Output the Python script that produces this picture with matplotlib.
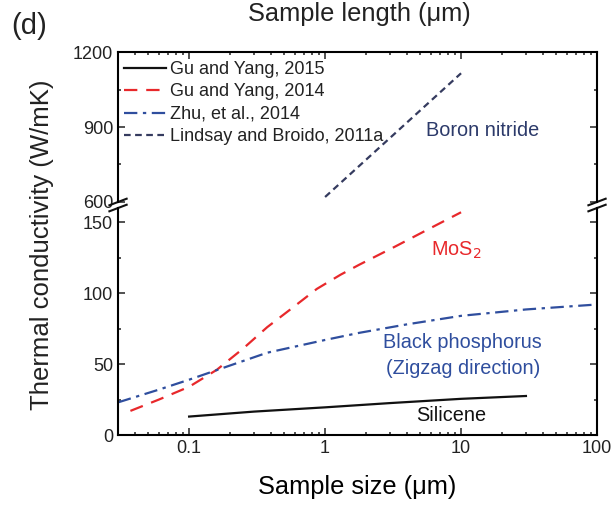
import numpy as np
import matplotlib
matplotlib.use("Agg")
import matplotlib.pyplot as plt
from matplotlib.ticker import MultipleLocator, FixedLocator, NullFormatter

plt.rcParams['font.family'] = ['Liberation Sans', 'DejaVu Sans']
plt.rcParams['text.color'] = '#222222'

# data (sample size in um, conductivity in W/mK)
silicene_x = [0.1, 0.3, 1.0, 3.0, 10.0, 30.0]
silicene_y = [13.0, 16.5, 19.5, 22.5, 25.5, 27.5]

mos2_x = [0.037, 0.06, 0.1, 0.16, 0.25, 0.375, 0.6, 0.87, 1.3, 1.78, 3.3, 6.0, 10.0]
mos2_y = [17.0, 25.0, 34.0, 46.0, 61.0, 76.0, 91.0, 103.0, 113.0, 120.0, 133.0, 146.0, 157.0]

bp_x = [0.03, 0.06, 0.1, 0.2, 0.375, 1.0, 1.78, 4.0, 10.0, 30.0, 100.0]
bp_y = [23.0, 32.0, 39.0, 49.0, 58.0, 67.0, 72.0, 78.0, 84.0, 88.5, 92.0]

bn_x = [1.0, 10.0]
bn_y = [620.0, 1115.0]

legend_labels = ["Gu and Yang, 2015", "Gu and Yang, 2014",
                 "Zhu, et al., 2014", "Lindsay and Broido, 2011a"]

c_black = '#111111'
c_red = '#e8282b'
c_blue = '#2f4e9e'
c_navy = '#353b5f'

fig = plt.figure(figsize=(6.16, 5.07), dpi=100)
ax_top = fig.add_axes([0.1916, 0.6016, 0.7776, 0.2958])
ax_bot = fig.add_axes([0.1916, 0.142, 0.7776, 0.4477])

lw = 1.6
l1, = ax_bot.plot(silicene_x, silicene_y, color=c_black, lw=lw, ls='-')
l2, = ax_bot.plot(mos2_x, mos2_y, color=c_red, lw=lw, ls=(0, (6, 4)))
l3, = ax_bot.plot(bp_x, bp_y, color=c_blue, lw=lw, ls=(0, (6, 2.5, 1.5, 2.5)))
l4, = ax_top.plot(bn_x, bn_y, color=c_navy, lw=lw, ls=(0, (3, 2)))

for ax in (ax_top, ax_bot):
    ax.set_xscale('log')
    ax.set_xlim(0.03, 100)
    for s in ax.spines.values():
        s.set_linewidth(1.5)
    ax.tick_params(which='both', direction='in', width=1.1, labelsize=13,
                   colors='#222222', right=True)
    ax.tick_params(which='major', length=5)
    ax.tick_params(which='minor', length=2.5)

ax_top.set_ylim(600, 1200)
ax_top.yaxis.set_major_locator(FixedLocator([600, 900, 1200]))
ax_top.yaxis.set_minor_locator(FixedLocator([750, 1050]))
ax_top.spines['bottom'].set_visible(False)
ax_top.tick_params(axis='x', which='both', bottom=False, top=True,
                   labelbottom=False)

ax_bot.set_ylim(0, 160)
ax_bot.yaxis.set_major_locator(FixedLocator([0, 50, 100, 150]))
ax_bot.yaxis.set_minor_locator(MultipleLocator(25))
ax_bot.spines['top'].set_visible(False)
ax_bot.tick_params(axis='x', which='both', top=False)
ax_bot.set_xticks([0.1, 1, 10, 100])
ax_bot.set_xticklabels(['0.1', '1', '10', '100'])
ax_bot.xaxis.set_minor_formatter(NullFormatter())
ax_bot.set_xlabel("Sample size (\u03bcm)", fontsize=18.3, labelpad=13)

fig.text(0.068, 0.517, "Thermal conductivity (W/mK)", rotation=90,
         fontsize=18.5, ha='center', va='center')
fig.text(0.583, 0.958, "Sample length (\u03bcm)", fontsize=18.3,
         ha='center', va='baseline')
fig.text(0.018, 0.949, "(d)", fontsize=21, ha='left', va='center')

# axis break marks
for xa in (0.0, 1.0):
    for ax, ya in ((ax_top, 0.0), (ax_bot, 1.0)):
        trans = ax.transAxes
        dx = 0.018
        dy = dx * (0.7776 * 616) / (ax.get_position().height * 507) * 0.38
        ax.plot([xa - dx, xa + dx], [ya - dy, ya + dy], transform=trans,
                color='#111111', lw=1.5, clip_on=False)

ax_top.legend([l1, l2, l3, l4], legend_labels, loc='upper left',
              bbox_to_anchor=(-0.006, 1.0), frameon=False, fontsize=13,
              handlelength=2.33, handletextpad=0.22, labelspacing=0.3,
              borderaxespad=0.3, borderpad=0.2)

ax_top.text(5.5, 888, "Boron nitride", color='#2c3a6a', fontsize=14.3,
            ha='left', va='center')
ax_bot.text(6.0, 130, "MoS$_2$", color=c_red, fontsize=14.3,
            ha='left', va='center')
ax_bot.text(10.3, 56, "Black phosphorus\n(Zigzag direction)", color=c_blue,
            fontsize=14.3, ha='center', va='center', linespacing=1.45)
ax_bot.text(8.5, 14, "Silicene", color=c_black, fontsize=14.3,
            ha='center', va='center')

fig.savefig("out.png", dpi=100)
